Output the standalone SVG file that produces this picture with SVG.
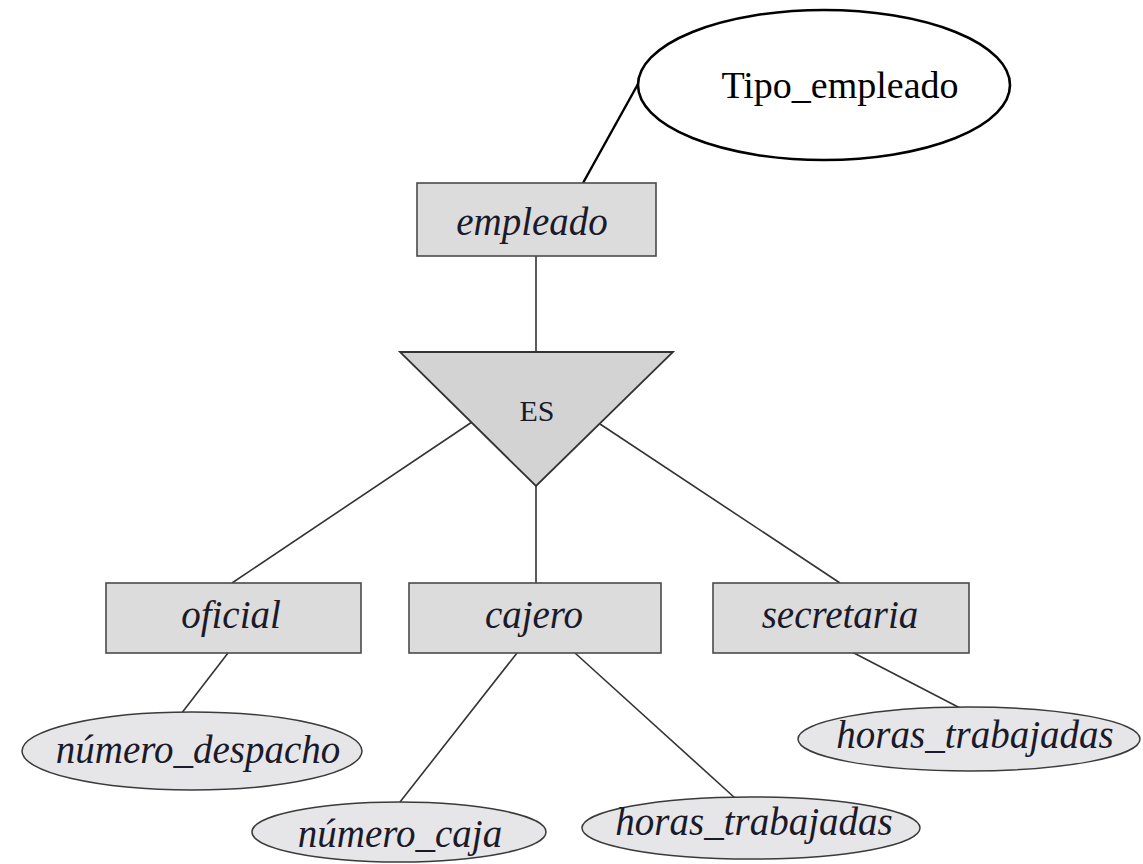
<svg xmlns="http://www.w3.org/2000/svg" width="1143" height="864" viewBox="0 0 1143 864">
  <style>
    .entity { fill: #dcdcdd; stroke: #4a4a4a; stroke-width: 1.6; }
    .attr { fill: #e6e6e8; stroke: #3a3a3a; stroke-width: 1.5; }
    .isa { fill: #d3d3d4; stroke: #333; stroke-width: 1.8; }
    .link { stroke: #333; stroke-width: 1.6; fill: none; }
    .lbl { font-family: "Liberation Serif", "Times New Roman", serif; font-style: italic; font-size: 39px; fill: #1a1a2a; text-anchor: middle; }
    .isa-lbl { font-family: "Liberation Serif", "Times New Roman", serif; font-size: 30px; fill: #1a1a2a; text-anchor: middle; }
    .note { fill: #ffffff; stroke: #000; stroke-width: 2.6; }
    .note-lbl { font-family: "Liberation Serif", "Times New Roman", serif; font-size: 38px; fill: #000; text-anchor: middle; }
  </style>
  <rect width="1143" height="864" fill="#ffffff"/>

  <g id="connectors">
    <line class="link" x1="638" y1="84" x2="583" y2="183" style="stroke:#000;stroke-width:2.4"/>
    <line class="link" x1="536" y1="256" x2="536" y2="352"/>
    <line class="link" x1="472" y1="422" x2="232" y2="583"/>
    <line class="link" x1="536" y1="486" x2="536" y2="583"/>
    <line class="link" x1="600" y1="424" x2="840" y2="583"/>
    <line class="link" x1="228" y1="653" x2="181" y2="714"/>
    <line class="link" x1="517" y1="653" x2="400" y2="802"/>
    <line class="link" x1="575" y1="653" x2="735" y2="798"/>
    <line class="link" x1="852" y1="652" x2="960" y2="708"/>
  </g>

  <g id="tipo_empleado">
    <ellipse class="note" cx="824" cy="85" rx="186" ry="75"/>
    <text class="note-lbl" x="840" y="98">Tipo_empleado</text>
  </g>

  <g id="empleado">
    <rect class="entity" x="417" y="183" width="239" height="73"/>
    <text class="lbl" x="532" y="235">empleado</text>
  </g>

  <g id="es">
    <polygon class="isa" points="400,352 673,352 536,486"/>
    <text class="isa-lbl" x="537" y="421">ES</text>
  </g>

  <g id="oficial">
    <rect class="entity" x="106" y="583" width="255" height="70"/>
    <text class="lbl" x="231" y="628">oficial</text>
  </g>

  <g id="cajero">
    <rect class="entity" x="409" y="583" width="252" height="70"/>
    <text class="lbl" x="534" y="628">cajero</text>
  </g>

  <g id="secretaria">
    <rect class="entity" x="713" y="583" width="256" height="70"/>
    <text class="lbl" x="840" y="628">secretaria</text>
  </g>

  <g id="numero_despacho">
    <ellipse class="attr" cx="192" cy="751" rx="170" ry="39"/>
    <text class="lbl" x="198" y="763">número_despacho</text>
  </g>

  <g id="numero_caja">
    <ellipse class="attr" cx="399" cy="832" rx="147" ry="30"/>
    <text class="lbl" x="400" y="847">número_caja</text>
  </g>

  <g id="horas_trabajadas_cajero">
    <ellipse class="attr" cx="751" cy="828" rx="169" ry="31"/>
    <text class="lbl" x="754" y="835">horas_trabajadas</text>
  </g>

  <g id="horas_trabajadas_secretaria">
    <ellipse class="attr" cx="969" cy="739" rx="171" ry="32"/>
    <text class="lbl" x="975" y="748">horas_trabajadas</text>
  </g>
</svg>
